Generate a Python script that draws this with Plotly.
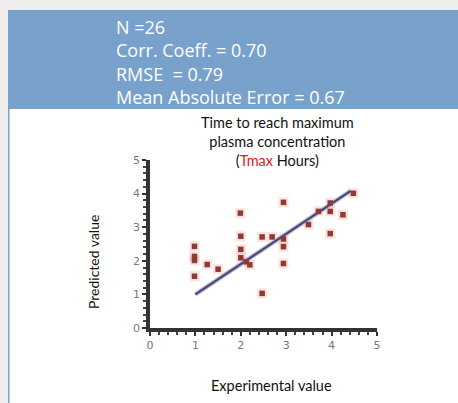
import plotly.graph_objects as go

# ---- data ----
experimental = [0.98, 0.98, 0.98, 0.98, 1.26, 1.50, 1.99, 2.00, 2.00, 2.00, 2.12, 2.20,
                2.47, 2.69, 2.47, 2.94, 2.94, 2.94, 2.94, 3.49, 3.71, 3.97, 3.97, 3.97,
                4.25, 4.48]
predicted = [2.43, 2.13, 2.01, 1.54, 1.89, 1.75, 3.42, 2.73, 2.34, 2.09, 1.97, 1.88,
             2.71, 2.71, 1.03, 3.74, 2.65, 2.42, 1.92, 3.08, 3.47, 3.72, 3.47, 2.81,
             3.37, 4.01]
fit_x = [1.0, 4.42]
fit_y = [1.0, 4.08]
tick_vals = [0, 1, 2, 3, 4, 5]
tick_text = ["0", "1", "2", "3", "4", "5"]
stats_lines = ["N =26", "Corr. Coeff. = 0.70", "RMSE  = 0.79", "Mean Absolute Error = 0.67"]

# ---- geometry ----
W_FIG, H_FIG = 458, 403
L, T = 150, 160
PW, PH = 227, 168
R = W_FIG - L - PW
B = H_FIG - T - PH


def px(x):
    return (x - L) / PW


def py(y):
    return (T + PH - y) / PH


fig = go.Figure()

# halo behind points
fig.add_trace(go.Scatter(x=experimental, y=predicted, mode="markers",
                         marker=dict(symbol="square", size=10, color="rgba(235,120,110,0.22)",
                                     line=dict(width=0)),
                         hoverinfo="skip", showlegend=False))
# regression / identity line
fig.add_trace(go.Scatter(x=fit_x, y=fit_y, mode="lines",
                         line=dict(color="#bdbddd", width=4.5), hoverinfo="skip", showlegend=False))
fig.add_trace(go.Scatter(x=fit_x, y=fit_y, mode="lines",
                         line=dict(color="#47476f", width=2.2), showlegend=False))
fig.add_trace(go.Scatter(x=experimental, y=predicted, mode="markers",
                         marker=dict(symbol="square", size=5.5, color="#8e3b36",
                                     line=dict(width=0)),
                         showlegend=False))

axis_common = dict(
    range=[0, 5], tickvals=tick_vals, ticktext=tick_text,
    showgrid=False, zeroline=False, showline=True, linecolor="#333333", linewidth=3.5,
    ticks="outside", ticklen=4, tickwidth=2, tickcolor="#333333",
    minor=dict(dtick=0.2, ticks="outside", ticklen=3, tickwidth=2, tickcolor="#444444"),
    tickfont=dict(family="DejaVu Sans", size=11, color="#777777"),
    fixedrange=True,
)

fig.update_layout(
    width=W_FIG, height=H_FIG,
    margin=dict(l=L, r=R, t=T, b=B),
    paper_bgcolor="#efeeec", plot_bgcolor="white",
    xaxis=axis_common, yaxis=axis_common,
    showlegend=False,
)

shapes = [
    dict(type="rect", xref="paper", yref="paper", x0=px(8), x1=px(458), y0=py(109), y1=py(10),
         fillcolor="#78a1cb", line=dict(width=0), layer="below"),
    dict(type="rect", xref="paper", yref="paper", x0=px(9.5), x1=px(458), y0=py(403), y1=py(109),
         fillcolor="white", line=dict(width=0), layer="below"),
    dict(type="rect", xref="paper", yref="paper", x0=px(8), x1=px(9.5), y0=py(403), y1=py(109),
         fillcolor="#7aa3d3", line=dict(width=0), layer="below"),
]
fig.update_layout(shapes=shapes)

ann = [dict(text="<br>".join(stats_lines), xref="paper", yref="paper", x=px(114), y=py(61.5),
            xanchor="left", yanchor="middle", showarrow=False, align="left",
            font=dict(family="Open Sans", size=18, color="white"))]
ann.append(dict(text="Time to reach maximum<br>plasma concentration<br>(<span style='color:#e02020'>Tmax</span> Hours)",
                xref="paper", yref="paper", x=px(277), y=py(141), xanchor="center", yanchor="middle",
                showarrow=False, align="center",
                font=dict(family="Lato", size=14.5, color="#111111")))
ann.append(dict(text="Experimental value", xref="paper", yref="paper", x=px(271), y=py(385),
                xanchor="center", yanchor="middle", showarrow=False,
                font=dict(family="Lato", size=14.5, color="#111111")))
ann.append(dict(text="Predicted value", xref="paper", yref="paper", x=px(93), y=py(262),
                xanchor="center", yanchor="middle", showarrow=False, textangle=-90,
                font=dict(family="Lato", size=14, color="#111111")))
fig.update_layout(annotations=ann)

fig.write_html("out.html", config={"displayModeBar": False},
               post_script="document.body.style.margin='0';document.body.style.overflow='hidden';")
